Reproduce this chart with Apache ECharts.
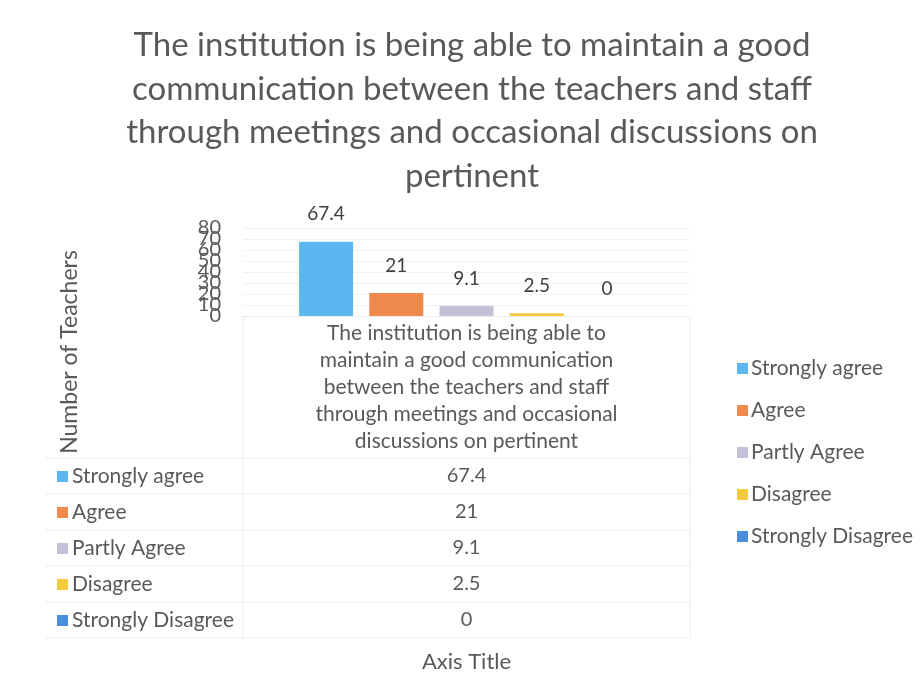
<!DOCTYPE html>
<html>
<head>
<meta charset="utf-8">
<script src="https://cdn.jsdelivr.net/npm/echarts@6/dist/echarts.min.js"></script>
<style>
  html, body { margin: 0; padding: 0; background: #fff; }
  #chart { width: 923px; height: 699px; }
</style>
</head>
<body>
<div id="chart"></div>
<script>
// data
const titleText = 'The institution is being able to maintain a good\ncommunication between the teachers and staff\nthrough meetings and occasional discussions on\npertinent'
const categoryName = 'The institution is being able to\nmaintain a good communication\nbetween the teachers and staff\nthrough meetings and occasional\ndiscussions on pertinent'
const seriesNames = ['Strongly agree', 'Agree', 'Partly Agree', 'Disagree', 'Strongly Disagree']
const seriesValues = [67.4, 21, 9.1, 2.5, 0]
const seriesColors = ['#5cb6f0', '#f08a4c', '#c6c0d8', '#f3cb3c', '#4a8ee0']
const yTicks = { min: 0, max: 80, interval: 10 }

const font = 'Lato, "Open Sans", sans-serif'
const textColor = '#595959'

const chart = echarts.init(document.getElementById('chart'))

// data table under the plot, built from the arrays
const rowTop = 458
const rowH = 36
const tableLeft = 45
const colSplit = 243
const tableRight = 690
const gfx = []
gfx.push({
  type: 'text', x: 472, y: 24,
  style: { text: titleText, font: '33px ' + font, fill: textColor, align: 'center', lineHeight: 43.5 }
})
gfx.push({
  type: 'text', x: 70, y: 352, rotation: Math.PI / 2,
  style: { text: 'Number of Teachers', font: '23px ' + font, fill: textColor, align: 'center', verticalAlign: 'middle' }
})
seriesNames.forEach((name, i) => {
  const cy = rowTop + rowH * i + rowH / 2
  gfx.push({
    type: 'rect', shape: { x: 57, y: cy - 5, width: 11, height: 11 },
    style: { fill: seriesColors[i] }
  })
  gfx.push({
    type: 'text', x: 72, y: cy,
    style: { text: name, font: '21px ' + font, fill: textColor, verticalAlign: 'middle' }
  })
  gfx.push({
    type: 'text', x: (colSplit + tableRight) / 2, y: cy,
    style: { text: String(seriesValues[i]), font: '20px ' + font, fill: textColor, align: 'center', verticalAlign: 'middle' }
  })
})
for (let i = 0; i <= seriesNames.length; i++) {
  gfx.push({
    type: 'line', shape: { x1: tableLeft, y1: rowTop + rowH * i, x2: tableRight, y2: rowTop + rowH * i },
    style: { stroke: '#ececec', lineWidth: 1 }
  })
}
gfx.push({
  type: 'line', shape: { x1: colSplit, y1: 316, x2: colSplit, y2: rowTop + rowH * seriesNames.length },
  style: { stroke: '#ececec', lineWidth: 1 }
})
gfx.push({
  type: 'line', shape: { x1: tableRight, y1: 316, x2: tableRight, y2: rowTop + rowH * seriesNames.length },
  style: { stroke: '#ececec', lineWidth: 1 }
})

const yLabelStyle = { fontFamily: font, fontSize: 20, color: textColor, margin: 22, hideOverlap: false }

chart.setOption({
  backgroundColor: '#fff',
  legend: {
    orient: 'vertical', left: 732, top: 353, itemGap: 21,
    itemWidth: 11, itemHeight: 11, icon: 'rect',
    textStyle: { fontFamily: font, fontSize: 21, color: textColor, padding: [0, 0, 0, -2] },
    data: seriesNames
  },
  grid: { left: 243, right: 233, top: 228, bottom: 383, containLabel: false },
  xAxis: {
    type: 'category', data: [categoryName],
    name: 'Axis Title', nameLocation: 'middle', nameGap: 335,
    nameTextStyle: { fontFamily: font, fontSize: 22, color: textColor },
    axisLine: { lineStyle: { color: '#ececec' } },
    axisTick: { show: false },
    axisLabel: { fontFamily: font, fontSize: 21, color: textColor, lineHeight: 27, margin: 4, align: 'center' }
  },
  yAxis: [{
    // inner ticks 10..70 (they overlap, as in the original)
    type: 'value', min: yTicks.min, max: yTicks.max, interval: yTicks.interval, position: 'left',
    axisLine: { show: false }, axisTick: { show: false },
    axisLabel: { ...yLabelStyle, showMinLabel: false, showMaxLabel: false },
    splitLine: { lineStyle: { color: '#f0f0f0' } }
  }, {
    // end ticks 0 and 80
    type: 'value', min: yTicks.min, max: yTicks.max, interval: yTicks.interval, position: 'left', offset: 0,
    axisLine: { show: false }, axisTick: { show: false }, splitLine: { show: false },
    axisLabel: {
      ...yLabelStyle, showMinLabel: true, showMaxLabel: true,
      formatter: v => (v === yTicks.min || v === yTicks.max) ? String(v) : ''
    }
  }],
  series: seriesNames.map((name, i) => ({
    name, type: 'bar', data: [seriesValues[i]],
    barWidth: 54, barGap: '30%',
    itemStyle: { color: seriesColors[i] },
    label: { show: true, position: 'top', distance: 18, fontFamily: font, fontSize: 19, color: '#404040' }
  })),
  graphic: gfx
})
</script>
</body>
</html>
